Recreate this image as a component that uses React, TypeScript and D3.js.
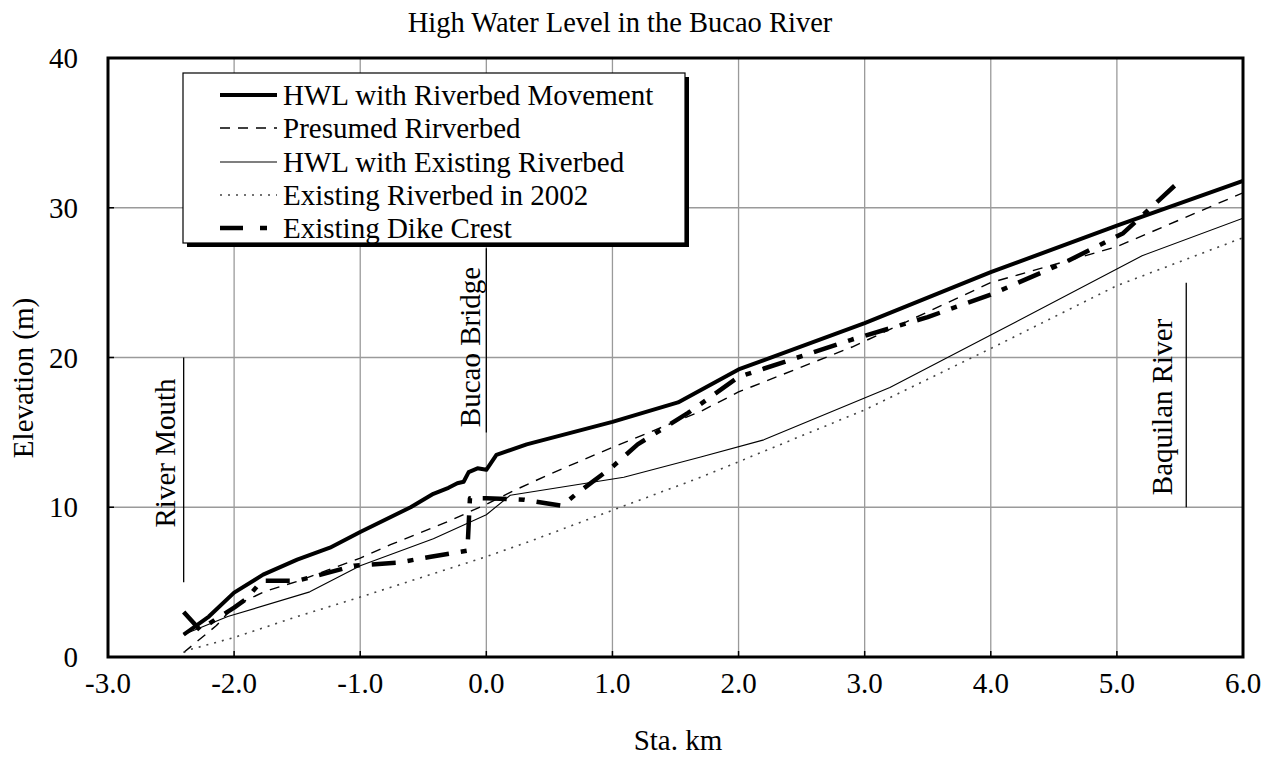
import React from "react";
import * as d3 from "d3";

// ---- Data ----
const xTicks = [-3, -2, -1, 0, 1, 2, 3, 4, 5, 6];
const yTicks = [0, 10, 20, 30, 40];

const hwlMoveX = [-2.4, -2.2, -2.0, -1.77, -1.5, -1.24, -1.0, -0.6, -0.42, -0.3, -0.23, -0.18, -0.14, -0.07, 0.0, 0.08, 0.32, 1.0, 1.52, 2.0, 3.0, 4.0, 5.0, 6.0];
const hwlMoveY = [1.5, 2.7, 4.3, 5.5, 6.5, 7.3, 8.35, 10.0, 10.9, 11.3, 11.6, 11.7, 12.35, 12.6, 12.5, 13.5, 14.2, 15.7, 17.0, 19.2, 22.3, 25.7, 28.8, 31.8];

const presumedX = [-2.4, -2.14, -2.0, -1.75, -1.48, -1.26, -1.0, -0.76, -0.29, 0.0, 0.19, 0.5, 1.0, 1.7, 2.0, 2.9, 4.0, 5.0, 6.0];
const presumedY = [0.3, 2.1, 3.4, 4.4, 5.1, 5.8, 6.6, 7.5, 9.1, 10.2, 11.0, 12.2, 14.0, 16.4, 17.7, 20.7, 25.0, 27.4, 31.0];

const hwlExistX = [-2.4, -2.05, -1.4, -1.0, -0.42, 0.0, 0.19, 1.09, 1.7, 2.2, 3.2, 4.0, 5.2, 6.0];
const hwlExistY = [1.5, 2.7, 4.35, 6.1, 7.9, 9.5, 10.8, 12.0, 13.35, 14.5, 18.0, 21.5, 26.8, 29.3];

const bed2002X = [-2.4, -2.35, -2.0, -1.5, -1.0, 0.0, 0.37, 1.0, 1.7, 3.0, 4.0, 4.5, 5.0, 6.0];
const bed2002Y = [0.3, 0.5, 1.3, 2.7, 4.0, 6.7, 7.8, 9.8, 12.0, 16.5, 20.6, 22.7, 24.8, 28.0];

const dikeX = [-2.4, -2.27, -2.15, -2.0, -1.9, -1.78, -1.5, -1.4, -1.05, -0.7, -0.44, -0.15, -0.13, 0.0, 0.3, 0.6, 0.7, 1.0, 1.2, 1.6, 2.0, 2.9, 3.5, 4.0, 4.6, 5.05, 5.5];
const dikeY = [3.0, 1.8, 2.5, 3.3, 3.9, 5.1, 5.1, 5.3, 6.1, 6.3, 6.7, 7.1, 10.6, 10.6, 10.5, 10.1, 10.8, 12.7, 14.2, 16.3, 18.7, 21.2, 22.7, 24.2, 26.4, 28.3, 31.8];

const legendLabels = [
  "HWL with Riverbed Movement",
  "Presumed Rirverbed",
  "HWL with Existing Riverbed",
  "Existing Riverbed in 2002",
  "Existing Dike Crest",
];

const landmarks = [
  { name: "River Mouth", x: -2.4, y0: 20.0, y1: 5.0 },
  { name: "Bucao Bridge", x: 0.0, y0: 27.3, y1: 15.0 },
  { name: "Baquilan River", x: 5.55, y0: 25.0, y1: 10.0 },
];

// ---- Styles ----
const FONT = "'Liberation Serif', 'Times New Roman', serif";
const seriesStyles = [
  { width: 4, dash: "none", color: "#000" },
  { width: 1.4, dash: "10,8", color: "#000" },
  { width: 1.1, dash: "none", color: "#000" },
  { width: 1.6, dash: "2,6", color: "#444" },
  { width: 4.5, dash: "24,12,6,12", color: "#000" },
];

export default function App() {
  const L = 108, R = 1243, T = 58, B = 657;
  const x = d3.scaleLinear().domain([-3, 6]).range([L, R]);
  const y = d3.scaleLinear().domain([0, 40]).range([B, T]);

  const mk = (xs: number[], ys: number[]) =>
    d3.line<number>().x((_, i) => x(xs[i])).y((_, i) => y(ys[i]))(xs);

  const series = [
    mk(hwlMoveX, hwlMoveY),
    mk(presumedX, presumedY),
    mk(hwlExistX, hwlExistY),
    mk(bed2002X, bed2002Y),
    mk(dikeX, dikeY),
  ];

  const legX = 183, legY = 73, legW = 502, legH = 170;
  const rowY = [95, 128, 162, 195, 228];

  return (
    <svg width={1270} height={767} style={{ position: "absolute", left: 0, top: 0, background: "#fff" }} fontFamily={FONT}>
      <rect x={0} y={0} width={1270} height={767} fill="#fff" />
      {/* title */}
      <text x={620} y={32} fontSize={28.5} textAnchor="middle">High Water Level in the Bucao River</text>

      {/* grid */}
      {xTicks.slice(1, -1).map((t) => (
        <line key={"gx" + t} x1={x(t)} x2={x(t)} y1={T} y2={B} stroke="#9a9a9a" strokeWidth={1.3} />
      ))}
      {yTicks.slice(1, -1).map((t) => (
        <line key={"gy" + t} x1={L} x2={R} y1={y(t)} y2={y(t)} stroke="#9a9a9a" strokeWidth={1.3} />
      ))}

      {/* ticks inside */}
      {xTicks.map((t) => (
        <line key={"tx" + t} x1={x(t)} x2={x(t)} y1={B} y2={B - 6} stroke="#000" strokeWidth={1.5} />
      ))}
      {yTicks.map((t) => (
        <line key={"ty" + t} x1={L} x2={L + 6} y1={y(t)} y2={y(t)} stroke="#000" strokeWidth={1.5} />
      ))}

      {/* landmark lines and labels */}
      {landmarks.map((m, i) => {
        const px = x(m.x);
        const bx = [175, 480, 1172][i];
        const cy = [453, 347, 407][i];
        return (
          <g key={m.name}>
            <line x1={px} x2={px} y1={y(m.y0)} y2={y(m.y1)} stroke="#000" strokeWidth={1.3} />
            <text transform={`translate(${bx},${cy}) rotate(-90)`} fontSize={29} textAnchor="middle">{m.name}</text>
          </g>
        );
      })}

      {/* series */}
      <defs>
        <clipPath id="plotclip">
          <rect x={L} y={T} width={R - L} height={B - T} />
        </clipPath>
      </defs>
      <g clipPath="url(#plotclip)">
        {series.map((d, i) => (
          <path key={i} d={d || ""} fill="none" stroke={seriesStyles[i].color} strokeWidth={seriesStyles[i].width}
            strokeDasharray={seriesStyles[i].dash} strokeLinejoin="round" />
        ))}
      </g>

      {/* frame */}
      <rect x={L} y={T} width={R - L} height={B - T} fill="none" stroke="#000" strokeWidth={3} />

      {/* axis tick labels */}
      {xTicks.map((t) => (
        <text key={"lx" + t} x={x(t)} y={693} fontSize={29} textAnchor="middle">{t.toFixed(1)}</text>
      ))}
      {yTicks.map((t) => (
        <text key={"ly" + t} x={78} y={y(t) + 10} fontSize={29} textAnchor="end">{t}</text>
      ))}

      {/* axis titles */}
      <text x={678} y={750} fontSize={29} textAnchor="middle">Sta. km</text>
      <text transform={`translate(33,378) rotate(-90)`} fontSize={29} textAnchor="middle">Elevation (m)</text>

      {/* legend */}
      <rect x={legX + 4} y={legY + 4} width={legW} height={legH} fill="#000" />
      <rect x={legX} y={legY} width={legW} height={legH} fill="#fff" stroke="#000" strokeWidth={1.2} />
      {legendLabels.map((lab, i) => {
        const s = seriesStyles[i];
        const dash = i === 4 ? "23,17,7,20" : i === 3 ? "2,6" : s.dash;
        return (
          <g key={lab}>
            <line x1={220} x2={277} y1={rowY[i]} y2={rowY[i]} stroke={s.color} strokeWidth={s.width} strokeDasharray={dash} />
            <text x={283} y={rowY[i] + 10} fontSize={29}>{lab}</text>
          </g>
        );
      })}
    </svg>
  );
}
